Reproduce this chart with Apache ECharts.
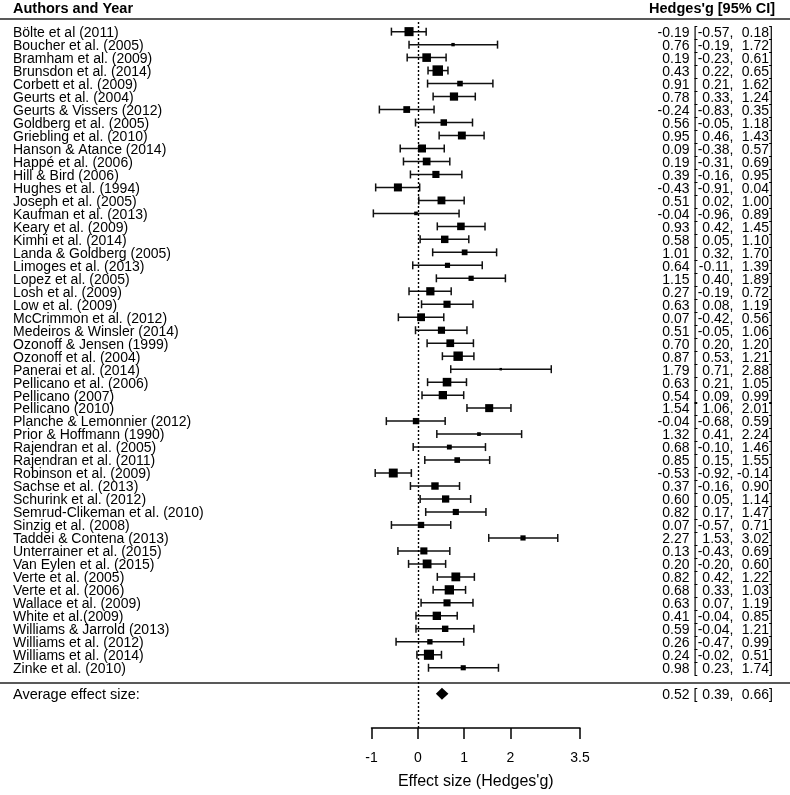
<!DOCTYPE html>
<html>
<head>
<meta charset="utf-8">
<script src="https://cdn.jsdelivr.net/npm/echarts@6/dist/echarts.min.js"></script>
<style>html,body{margin:0;padding:0;background:#fff}#c{width:790px;height:795px}</style>
</head>
<body>
<div id="c"></div>
<script>
const studies = [
  'Bölte et al (2011)','Boucher et al. (2005)','Bramham et al. (2009)','Brunsdon et al. (2014)',
  'Corbett et al. (2009)','Geurts et al. (2004)','Geurts & Vissers (2012)','Goldberg et al. (2005)',
  'Griebling et al. (2010)','Hanson & Atance (2014)','Happé et al. (2006)','Hill & Bird (2006)',
  'Hughes et al. (1994)','Joseph et al. (2005)','Kaufman et al. (2013)','Keary et al. (2009)',
  'Kimhi et al. (2014)','Landa & Goldberg (2005)','Limoges et al. (2013)','Lopez et al. (2005)',
  'Losh et al. (2009)','Low et al. (2009)','McCrimmon et al. (2012)','Medeiros & Winsler (2014)',
  'Ozonoff & Jensen (1999)','Ozonoff et al. (2004)','Panerai et al. (2014)','Pellicano et al. (2006)',
  'Pellicano (2007)','Pellicano (2010)','Planche & Lemonnier (2012)','Prior & Hoffmann (1990)',
  'Rajendran et al. (2005)','Rajendran et al. (2011)','Robinson et al. (2009)','Sachse et al. (2013)',
  'Schurink et al. (2012)','Semrud-Clikeman et al. (2010)','Sinzig et al. (2008)','Taddei & Contena (2013)',
  'Unterrainer et al. (2015)','Van Eylen et al. (2015)','Verte et al. (2005)','Verte et al. (2006)',
  'Wallace et al. (2009)','White et al.(2009)','Williams & Jarrold (2013)','Williams et al. (2012)',
  'Williams et al. (2014)','Zinke et al. (2010)'
];
const estimates = [
  -0.19,0.76,0.19,0.43,0.91,0.78,-0.24,0.56,0.95,0.09,0.19,0.39,-0.43,0.51,-0.04,0.93,0.58,1.01,0.64,1.15,
  0.27,0.63,0.07,0.51,0.70,0.87,1.79,0.63,0.54,1.54,-0.04,1.32,0.68,0.85,-0.53,0.37,0.60,0.82,0.07,2.27,
  0.13,0.20,0.82,0.68,0.63,0.41,0.59,0.26,0.24,0.98
];
const lower = [
  -0.57,-0.19,-0.23,0.22,0.21,0.33,-0.83,-0.05,0.46,-0.38,-0.31,-0.16,-0.91,0.02,-0.96,0.42,0.05,0.32,-0.11,0.40,
  -0.19,0.08,-0.42,-0.05,0.20,0.53,0.71,0.21,0.09,1.06,-0.68,0.41,-0.10,0.15,-0.92,-0.16,0.05,0.17,-0.57,1.53,
  -0.43,-0.20,0.42,0.33,0.07,-0.04,-0.04,-0.47,-0.02,0.23
];
const upper = [
  0.18,1.72,0.61,0.65,1.62,1.24,0.35,1.18,1.43,0.57,0.69,0.95,0.04,1.00,0.89,1.45,1.10,1.70,1.39,1.89,
  0.72,1.19,0.56,1.06,1.20,1.21,2.88,1.05,0.99,2.01,0.59,2.24,1.46,1.55,-0.14,0.90,1.14,1.47,0.71,3.02,
  0.69,0.60,1.22,1.03,1.19,0.85,1.21,0.99,0.51,1.74
];
const pooledLabel = 'Average effect size:';
const pooledEst = 0.52, pooledLo = 0.39, pooledHi = 0.66;
const xTicks = [-1, 0, 1, 2, 3.5];
const headerLeft = 'Authors and Year';
const headerRight = "Hedges'g [95% CI]";
const xTitle = "Effect size (Hedges'g)";

const FONT = '"Liberation Sans", Arial, sans-serif';
const pooledRow = studies.length + 1;

// marker size from (random-effects style) inverse-variance weight of each CI
const wts = lower.map((l, i) => { const se = (upper[i] - l) / 3.92; return 1 / (se * se + 0.2); });
const wMin = Math.min(...wts), wMax = Math.max(...wts);
const sizeOf = i => 2.5 + 8 * (wts[i] - wMin) / (wMax - wMin);

const ciData = studies.map((n, i) => [estimates[i], i, lower[i], upper[i]]);
const textData = studies.map((n, i) => [0, i]).concat([[0, pooledRow]]);

const f2 = v => v.toFixed(2);

function txt(x, y, s, align, size, weight) {
  return { type: 'text', x: x, y: y, style: { text: s, fill: '#000', fontSize: size || 14, fontFamily: FONT,
    fontWeight: weight || 'normal', align: align, verticalAlign: 'middle' } };
}

const chart = echarts.init(document.getElementById('c'), null, { renderer: 'canvas' });
chart.setOption({
  animation: false,
  backgroundColor: '#fff',
  grid: { left: 371.5, right: 210, top: 22, bottom: 63, containLabel: false },
  xAxis: {
    type: 'value', min: -1, max: 3.5,
    axisLine: { show: true, onZero: false, lineStyle: { color: '#000', width: 1.5 } },
    axisTick: { show: true, length: 11, customValues: xTicks, lineStyle: { color: '#000', width: 1.5 } },
    axisLabel: { customValues: xTicks, formatter: v => String(v), margin: 23, fontSize: 14, color: '#000', fontFamily: FONT },
    splitLine: { show: false },
    name: xTitle, nameLocation: 'middle', nameGap: 46,
    nameTextStyle: { fontSize: 16, color: '#000', fontFamily: FONT }
  },
  yAxis: { type: 'value', inverse: true, min: -0.743, max: 53.64, show: false },
  graphic: [
    txt(13, 9, headerLeft, 'left', 14.5, 'bold'),
    txt(775, 9, headerRight, 'right', 14.5, 'bold'),
    { type: 'line', shape: { x1: 0, y1: 19, x2: 790, y2: 19 }, style: { stroke: '#222', lineWidth: 1.5 } },
    { type: 'line', shape: { x1: 0, y1: 683, x2: 790, y2: 683 }, style: { stroke: '#222', lineWidth: 1.5 } }
  ],
  series: [
    {
      type: 'custom', name: 'ci', silent: true,
      data: ciData,
      encode: { x: [0, 2, 3], y: 1 },
      renderItem: function (params, api) {
        const i = params.dataIndex;
        const row = api.value(1);
        const pE = api.coord([api.value(0), row]);
        const pL = api.coord([api.value(2), row]);
        const pH = api.coord([api.value(3), row]);
        const s = sizeOf(i);
        const ls = { stroke: '#111', lineWidth: 1.5 };
        return { type: 'group', children: [
          { type: 'line', shape: { x1: pL[0], y1: pL[1], x2: pH[0], y2: pH[1] }, style: ls },
          { type: 'line', shape: { x1: pL[0], y1: pL[1] - 4, x2: pL[0], y2: pL[1] + 4 }, style: ls },
          { type: 'line', shape: { x1: pH[0], y1: pH[1] - 4, x2: pH[0], y2: pH[1] + 4 }, style: ls },
          { type: 'rect', shape: { x: pE[0] - s / 2, y: pE[1] - s / 2, width: s, height: s }, style: { fill: '#000' } }
        ] };
      },
      markLine: {
        silent: true, symbol: 'none', label: { show: false },
        lineStyle: { color: '#000', type: [2, 2], width: 1.4 },
        data: [{ xAxis: 0 }]
      },
      z: 3
    },
    {
      type: 'custom', name: 'pooled', silent: true,
      data: [[pooledEst, pooledRow, pooledLo, pooledHi]],
      encode: { x: [0, 2, 3], y: 1 },
      renderItem: function (params, api) {
        const row = api.value(1);
        const pE = api.coord([api.value(0), row]);
        const pL = api.coord([api.value(2), row]);
        const pH = api.coord([api.value(3), row]);
        return { type: 'polygon', shape: { points: [[pL[0], pL[1]], [pE[0], pE[1] - 6], [pH[0], pH[1]], [pE[0], pE[1] + 6]] },
          style: { fill: '#000' } };
      },
      z: 4
    },
    {
      type: 'custom', name: 'text', silent: true,
      data: textData,
      encode: { x: 0, y: 1 },
      renderItem: function (params, api) {
        const i = params.dataIndex;
        const row = api.value(1);
        const y = api.coord([0, row])[1] + 1.5;
        let name, e, l, h;
        if (i < studies.length) { name = studies[i]; e = estimates[i]; l = lower[i]; h = upper[i]; }
        else { name = pooledLabel; e = pooledEst; l = pooledLo; h = pooledHi; }
        return { type: 'group', children: [
          txt(13, y, name, 'left', i < studies.length ? 14 : 14.5),
          txt(689.5, y, f2(e), 'right'),
          txt(693.5, y, '[', 'left'),
          txt(733.5, y, f2(l) + ',', 'right'),
          txt(769, y, f2(h), 'right'),
          txt(769, y, ']', 'left')
        ] };
      },
      z: 5
    }
  ]
});
</script>
</body>
</html>
